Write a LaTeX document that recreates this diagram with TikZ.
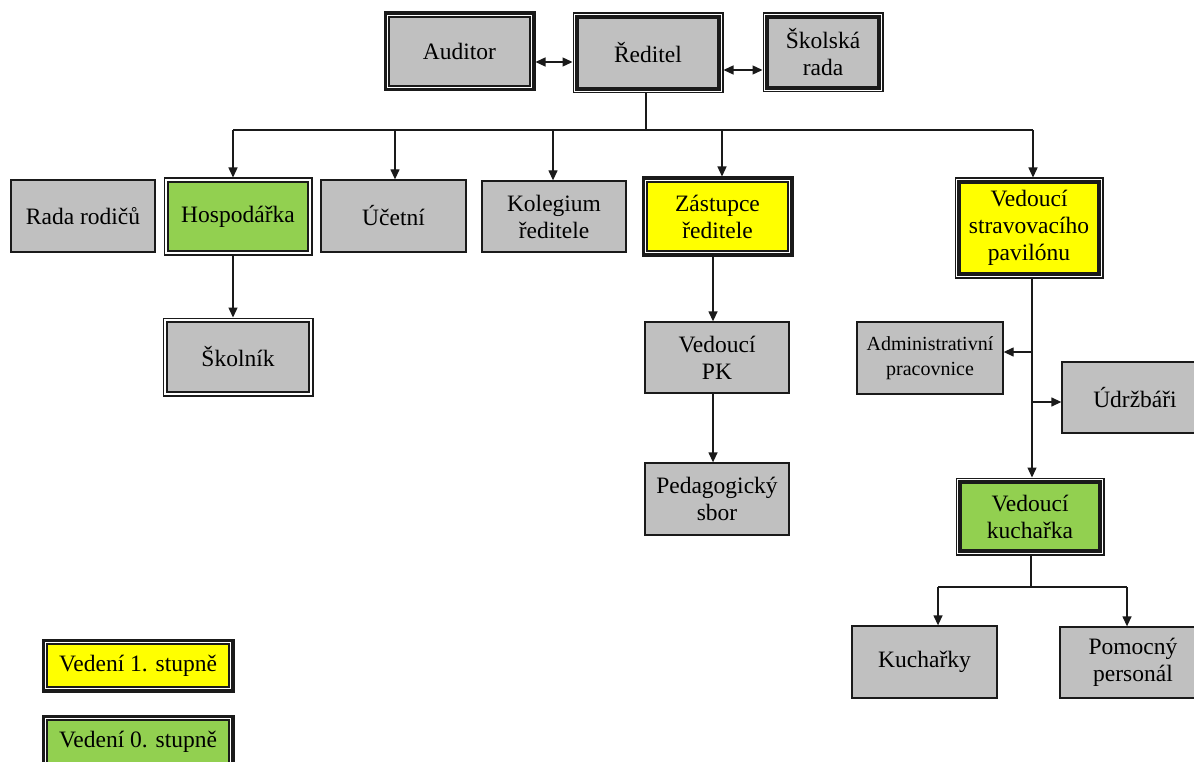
\documentclass[tikz,border=0pt]{standalone}
\usepackage{fontspec}
\setmainfont{Liberation Serif}
\usetikzlibrary{arrows.meta}
\definecolor{boxgray}{HTML}{C0C0C0}
\definecolor{ylw}{HTML}{FFFF00}
\definecolor{grn}{HTML}{92D050}
\definecolor{ln}{HTML}{1A1A1A}
\tikzset{
  txt/.style={font=\fontsize{23.5}{27}\selectfont, align=center, inner sep=0pt},
  box/.style={txt, draw=ln, line width=1.3pt, fill=boxgray},
  % #1 outer sep (gap + half outer width), #2 inner line width, #3 fill
  dbl/.style n args={3}{txt, draw=ln, line width=#2, fill=#3, outer sep=#1},
  sz/.style 2 args={minimum width=#1, minimum height=#2},
  frame/.style={draw=ln, line width=#1},
  conn/.style={draw=ln, line width=1.3pt},
  arr/.style={conn, -{Triangle[length=10pt,width=9pt]}},
  darr/.style={conn, {Triangle[length=10pt,width=9pt]}-{Triangle[length=10pt,width=9pt]}}
}
\newcommand{\outerfr}[2]{%
  \draw[frame=#2pt] ([shift={(#2pt/2,-#2pt/2)}]#1.north west) rectangle ([shift={(-#2pt/2,#2pt/2)}]#1.south east);}
\begin{document}
\begin{tikzpicture}[x=1pt,y=-1pt]
\useasboundingbox (0,0) rectangle (1194,762);
\clip (0,0) rectangle (1194,762);
% top row
\node[dbl={5.5pt}{1.2pt}{boxgray}, sz={141pt}{69pt}] (aud) at (459.5,51.5) {Auditor};
\node[dbl={4.5pt}{3.2pt}{boxgray}, sz={142pt}{72pt}] (red) at (648,53) {Ředitel};
\node[dbl={4.5pt}{3.2pt}{boxgray}, sz={112pt}{71pt}] (skr) at (823,52.5) {Školská\\rada};
% second row
\node[box, sz={144pt}{72pt}] (rr) at (83,216) {Rada rodičů};
\node[dbl={4.5pt}{2.6pt}{grn}, sz={140pt}{69pt}] (hos) at (238,216.5) {Hospodářka};
\node[box, sz={145pt}{72pt}] (uce) at (393.5,216) {Účetní};
\node[box, sz={144pt}{71pt}] (kol) at (554,216.5) {Kolegium\\ředitele};
\node[dbl={5.5pt}{1.6pt}{ylw}, sz={141pt}{69pt}] (zas) at (717.5,216.5) {Zástupce\\ředitele};
\node[dbl={4.5pt}{3.2pt}{ylw}, sz={140pt}{92pt}] (vsp) at (1029,228) {Vedoucí\\stravovacího\\pavilónu};
% lower
\node[dbl={4.5pt}{2.6pt}{boxgray}, sz={142pt}{70pt}] (sko) at (238,357) {Školník};
\node[box, sz={144pt}{71pt}] (vpk) at (717,357.5) {Vedoucí\\PK};
\node[box, sz={144pt}{72pt}] (ped) at (717,499) {Pedagogický\\sbor};
\node[box, sz={146pt}{72pt}, font=\fontsize{20}{25}\selectfont] (adm) at (930,358) {Administrativní\\pracovnice};
\node[box, sz={146pt}{71pt}] (udr) at (1135,397.5) {Údržbáři};
\node[dbl={4.5pt}{3.2pt}{grn}, sz={140pt}{69pt}] (vku) at (1030,516.5) {Vedoucí\\kuchařka};
\node[box, sz={145pt}{72pt}] (kuc) at (924.5,662) {Kuchařky};
\node[box, sz={146pt}{71pt}] (pom) at (1133,662.5) {Pomocný\\personál};
% legend
\node[dbl={5.5pt}{1.4pt}{ylw}, sz={182pt}{43pt}] (l1) at (138,665.5) {Vedení 1. stupně};
\node[dbl={5.5pt}{1.6pt}{grn}, sz={182pt}{43pt}] (l0) at (138,741.5) {Vedení 0. stupně};
% outer frames
\outerfr{aud}{3.5}
\outerfr{red}{1.2}
\outerfr{skr}{1.2}
\outerfr{hos}{1.2}
\outerfr{zas}{3.2}
\outerfr{vsp}{1.2}
\outerfr{sko}{1.2}
\outerfr{vku}{1.2}
\outerfr{l1}{3.5}
\outerfr{l0}{3.5}
% connectors top
\coordinate (y1) at (0,62);
\coordinate (y2) at (0,70);
\draw[darr] (aud.east |- y1) -- (red.west |- y1);
\draw[darr] (red.east |- y2) -- (skr.west |- y2);
% bus
\coordinate (bm) at (646,130);
\coordinate (b1) at (233,130);
\coordinate (b2) at (395,130);
\coordinate (b3) at (553,130);
\coordinate (b4) at (722,130);
\coordinate (b5) at (1033,130);
\draw[conn] (bm |- red.south) -- (bm);
\draw[conn] (b1) -- (b5);
\draw[arr] (b1) -- (b1 |- hos.north);
\draw[arr] (b2) -- (b2 |- uce.north);
\draw[arr] (b3) -- (b3 |- kol.north);
\draw[arr] (b4) -- (b4 |- zas.north);
\draw[arr] (b5) -- (b5 |- vsp.north);
% hospodarka
\coordinate (h1) at (233,0);
\draw[arr] (h1 |- hos.south) -- (h1 |- sko.north);
% zastupce
\coordinate (z1) at (713,0);
\draw[arr] (z1 |- zas.south) -- (z1 |- vpk.north);
\draw[arr] (z1 |- vpk.south) -- (z1 |- ped.north);
% vedouci strav
\coordinate (v1) at (1032,0);
\coordinate (va) at (1032,352);
\coordinate (vu) at (1032,402);
\draw[arr] (v1 |- vsp.south) -- (v1 |- vku.north);
\draw[arr] (va) -- (va -| adm.east);
\draw[arr] (vu) -- (vu -| udr.west);
% vedouci kucharka
\coordinate (k0) at (1031,0);
\coordinate (km) at (1031,587);
\coordinate (k1) at (938,587);
\coordinate (k2) at (1127,587);
\draw[conn] (k0 |- vku.south) -- (km);
\draw[conn] (k1) -- (k2);
\draw[arr] (k1) -- (k1 |- kuc.north);
\draw[arr] (k2) -- (k2 |- pom.north);
\end{tikzpicture}
\end{document}
